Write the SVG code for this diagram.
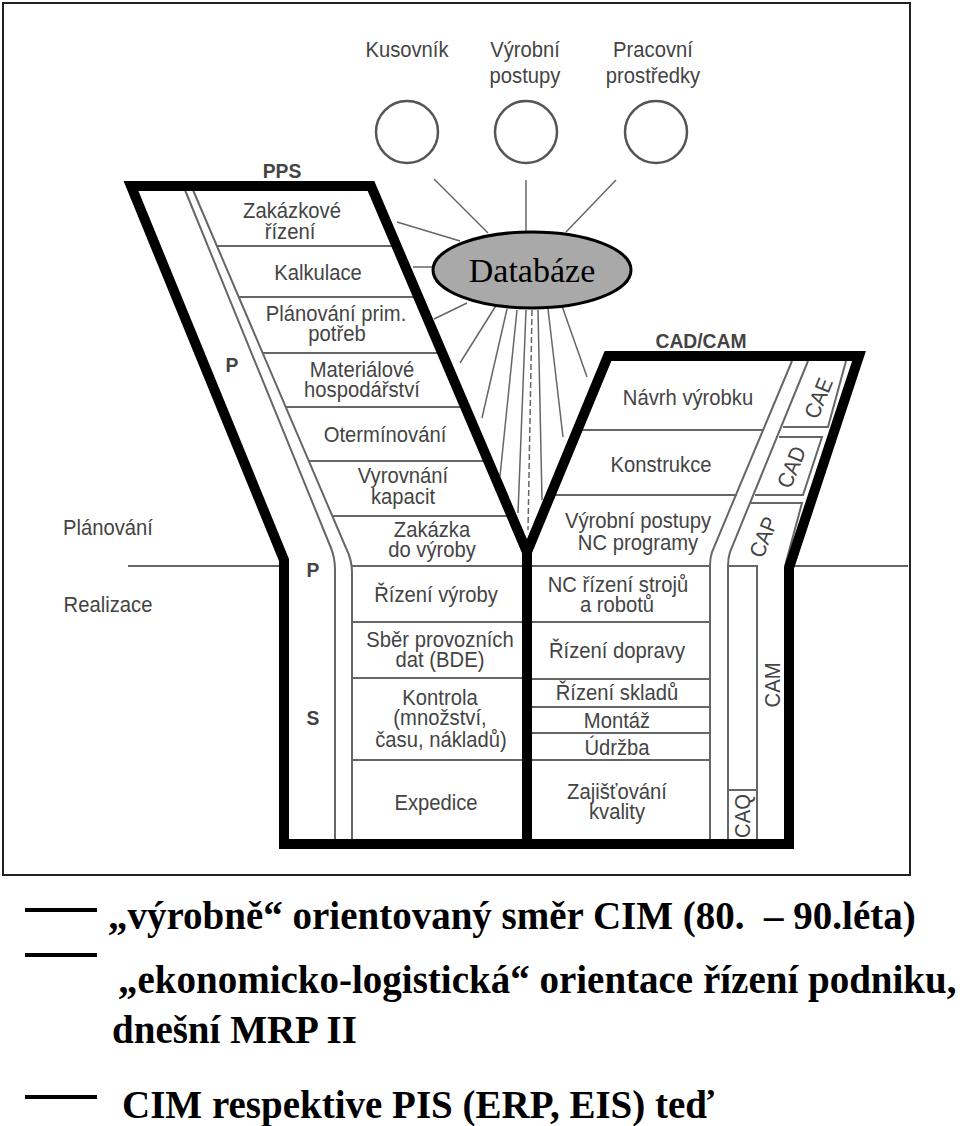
<svg xmlns="http://www.w3.org/2000/svg" width="960" height="1126" viewBox="0 0 960 1126">
<style>
.lbl{font-family:"Liberation Sans",Arial,sans-serif;font-size:22px;fill:#444;text-anchor:middle}
.bold{font-weight:bold;font-size:21px}
.thin{stroke:#666;stroke-width:2;fill:none}
.ray{stroke:#666;stroke-width:1.5;fill:none}
.thick{stroke:#000;stroke-width:10;fill:none;stroke-linejoin:miter}
.leg{font-family:"Liberation Serif","Times New Roman",serif;font-weight:bold;font-size:39px;fill:#000}
.dash{stroke:#000;stroke-width:4}
</style>
<rect x="0" y="0" width="960" height="1126" fill="#fff"/>
<rect id="frame" x="3" y="3" width="907" height="872" fill="none" stroke="#222" stroke-width="2"/>

<g id="connectors">
<line class="ray" x1="434" y1="179" x2="488" y2="233"/>
<line class="ray" x1="526" y1="180" x2="526" y2="231"/>
<line class="ray" x1="616" y1="180" x2="566" y2="232"/>
<line class="ray" x1="397" y1="222" x2="460" y2="241"/>
<line class="ray" x1="413" y1="267" x2="433" y2="267"/>
<line class="ray" x1="434" y1="319" x2="467" y2="303"/>
<line class="ray" x1="497" y1="304" x2="460" y2="363"/>
<line class="ray" x1="507" y1="309" x2="482" y2="418"/>
<line class="ray" x1="517" y1="310" x2="500" y2="476"/>
<line class="ray" x1="526" y1="310" x2="518" y2="513"/>
<line class="ray" x1="532" y1="310" x2="528" y2="530" stroke-dasharray="6 3"/>
<line class="ray" x1="538" y1="310" x2="542" y2="500"/>
<line class="ray" x1="548" y1="309" x2="563" y2="437"/>
<line class="ray" x1="562" y1="306" x2="587" y2="377"/>
</g>

<g id="sources">
<g id="kusovnik">
<circle cx="407" cy="132" r="31" fill="none" stroke="#555" stroke-width="2.5"/>
<text class="lbl" transform="translate(407,57) scale(.92,1)">Kusovník</text>
</g>
<g id="vyrobni-postupy-src">
<circle cx="526" cy="132" r="31" fill="none" stroke="#555" stroke-width="2.5"/>
<text class="lbl" transform="translate(525,57) scale(.92,1)">Výrobní</text>
<text class="lbl" transform="translate(525,83) scale(.92,1)">postupy</text>
</g>
<g id="pracovni">
<circle cx="656" cy="132" r="31" fill="none" stroke="#555" stroke-width="2.5"/>
<text class="lbl" transform="translate(653,57) scale(.92,1)">Pracovní</text>
<text class="lbl" transform="translate(653,83) scale(.92,1)">prostředky</text>
</g>
</g>

<g id="databaze">
<ellipse cx="532" cy="270" rx="99" ry="38" fill="#a9a9a9" stroke="#000" stroke-width="3"/>
<text x="532" y="282" font-family="Liberation Serif,'Times New Roman',serif" font-size="34" text-anchor="middle" fill="#000">Databáze</text>
</g>

<g id="left-arm-structure">
<path class="thin" d="M185,190 L331,548 Q335,558 335,570 L335,844"/>
<path class="thin" d="M193,190 L346,548 Q352,560 352,572 L352,844"/>
<line class="thin" x1="216" y1="246" x2="396" y2="246"/>
<line class="thin" x1="238" y1="297" x2="418" y2="297"/>
<line class="thin" x1="262" y1="353" x2="442" y2="353"/>
<line class="thin" x1="285" y1="407" x2="465" y2="407"/>
<line class="thin" x1="309" y1="461" x2="488" y2="461"/>
<line class="thin" x1="332" y1="516" x2="511" y2="516"/>
<line class="thin" x1="352" y1="566" x2="710" y2="566"/>
<line class="thin" x1="352" y1="622" x2="710" y2="622"/>
<line class="thin" x1="352" y1="678" x2="527" y2="678"/>
<line class="thin" x1="352" y1="760" x2="710" y2="760"/>
<line class="thin" x1="128" y1="566" x2="284" y2="566"/>
<line class="thin" x1="789" y1="566" x2="908" y2="566"/>
</g>

<g id="right-arm-structure">
<path class="thin" d="M792,361 L712,552 Q710,558 710,566 L710,844"/>
<path class="thin" d="M808,361 L730,552 Q728,558 728,566 L728,844"/>
<line class="thin" x1="577" y1="430" x2="764" y2="430"/>
<line class="thin" x1="551" y1="495" x2="737" y2="495"/>
<line class="thin" x1="527" y1="679" x2="710" y2="679"/>
<line class="thin" x1="527" y1="707" x2="710" y2="707"/>
<line class="thin" x1="527" y1="733" x2="710" y2="733"/>
<polyline class="thin" points="846,361 828,427 783,427"/>
<polyline class="thin" points="779,437 822,437 803,495 755,495"/>
<polyline class="thin" points="751,503 802,503 785,566"/>
<polyline class="thin" points="728,566 757,566 757,844"/>
<line class="thin" x1="728" y1="790" x2="757" y2="790"/>
</g>

<g id="y-outline">
<path class="thick" d="M131,186 L371,186 L527,552 L608,356 L859,356 L789,568 L789,844 L284,844 L284,560 Z"/>
<line class="thick" x1="527" y1="550" x2="527" y2="844"/>
</g>

<g id="pps-labels">
<text class="lbl bold" transform="translate(282,178) scale(.92,1)">PPS</text>
<text class="lbl" transform="translate(292,218) scale(.92,1)">Zakázkové</text>
<text class="lbl" transform="translate(290,239) scale(.92,1)">řízení</text>
<text class="lbl" transform="translate(318,280) scale(.92,1)">Kalkulace</text>
<text class="lbl" transform="translate(336,321) scale(.92,1)">Plánování prim.</text>
<text class="lbl" transform="translate(337,341) scale(.92,1)">potřeb</text>
<text class="lbl" transform="translate(362,377) scale(.92,1)">Materiálové</text>
<text class="lbl" transform="translate(362,397) scale(.92,1)">hospodářství</text>
<text class="lbl" transform="translate(385,442) scale(.92,1)">Otermínování</text>
<text class="lbl" transform="translate(403,483) scale(.92,1)">Vyrovnání</text>
<text class="lbl" transform="translate(403,504) scale(.92,1)">kapacit</text>
<text class="lbl" transform="translate(432,537) scale(.92,1)">Zakázka</text>
<text class="lbl" transform="translate(432,557) scale(.92,1)">do výroby</text>
<text class="lbl" transform="translate(436,602) scale(.92,1)">Řízení výroby</text>
<text class="lbl" transform="translate(440,647) scale(.92,1)">Sběr provozních</text>
<text class="lbl" transform="translate(440,667) scale(.92,1)">dat (BDE)</text>
<text class="lbl" transform="translate(440,705) scale(.92,1)">Kontrola</text>
<text class="lbl" transform="translate(440,725) scale(.92,1)">(množství,</text>
<text class="lbl" transform="translate(441,747) scale(.92,1)">času, nákladů)</text>
<text class="lbl" transform="translate(436,810) scale(.92,1)">Expedice</text>
</g>

<g id="side-labels">
<text class="lbl bold" transform="translate(232,372) scale(.92,1)">P</text>
<text class="lbl bold" transform="translate(313,577) scale(.92,1)">P</text>
<text class="lbl bold" transform="translate(313,725) scale(.92,1)">S</text>
<text class="lbl" transform="translate(108,535) scale(.92,1)">Plánování</text>
<text class="lbl" transform="translate(108,612) scale(.92,1)">Realizace</text>
</g>

<g id="cadcam-labels">
<text class="lbl bold" transform="translate(701,348) scale(.92,1)">CAD/CAM</text>
<text class="lbl" transform="translate(688,405) scale(.92,1)">Návrh výrobku</text>
<text class="lbl" transform="translate(661,472) scale(.92,1)">Konstrukce</text>
<text class="lbl" transform="translate(638,528) scale(.92,1)">Výrobní postupy</text>
<text class="lbl" transform="translate(638,550) scale(.92,1)">NC programy</text>
<text class="lbl" transform="translate(618,592) scale(.92,1)">NC řízení strojů</text>
<text class="lbl" transform="translate(617,612) scale(.92,1)">a robotů</text>
<text class="lbl" transform="translate(617,658) scale(.92,1)">Řízení dopravy</text>
<text class="lbl" transform="translate(617,700) scale(.92,1)">Řízení skladů</text>
<text class="lbl" transform="translate(617,728) scale(.92,1)">Montáž</text>
<text class="lbl" transform="translate(617,755) scale(.92,1)">Údržba</text>
<text class="lbl" transform="translate(617,799) scale(.92,1)">Zajišťování</text>
<text class="lbl" transform="translate(617,819) scale(.92,1)">kvality</text>
<text class="lbl" transform="translate(818,398) rotate(-68) scale(.92,1)" y="8">CAE</text>
<text class="lbl" transform="translate(791,467) rotate(-68) scale(.92,1)" y="8">CAD</text>
<text class="lbl" transform="translate(763,537) rotate(-68) scale(.92,1)" y="8">CAP</text>
<text class="lbl" transform="translate(772,685) rotate(-90) scale(.92,1)" y="8">CAM</text>
<text class="lbl" transform="translate(742,816) rotate(-90) scale(.92,1)" y="8">CAQ</text>
</g>

<g id="legend">
<line class="dash" x1="25" y1="910" x2="97" y2="910"/>
<text class="leg" x="108" y="929">„výrobně“ orientovaný směr CIM (80.&#160; – 90.léta)</text>
<line class="dash" x1="25" y1="955" x2="97" y2="955"/>
<text class="leg" x="118" y="993">„ekonomicko-logistická“ orientace řízení podniku,</text>
<text class="leg" x="112" y="1043">dnešní MRP II</text>
<line class="dash" x1="25" y1="1097" x2="97" y2="1097"/>
<text class="leg" x="122" y="1118" font-size="40">CIM respektive PIS (ERP, EIS) teď</text>
</g>
</svg>
